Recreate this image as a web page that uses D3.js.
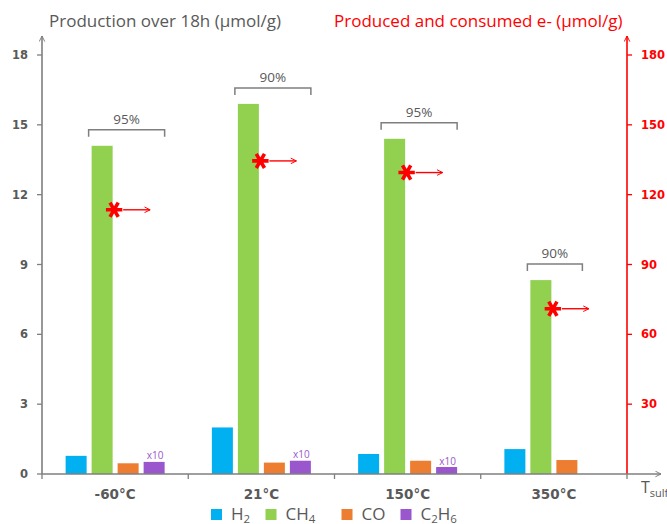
<!DOCTYPE html>
<html>
<head>
<meta charset="utf-8">
<script src="https://cdn.jsdelivr.net/npm/d3@7"></script>
<style>
  html, body { margin: 0; padding: 0; background: #fff; }
  svg { display: block; font-family: "Open Sans", sans-serif; }
</style>
</head>
<body>
<svg id="chart" width="667" height="524"></svg>
<script>
// Sulfidation temperatures
const categories = ["-60°C", "21°C", "150°C", "350°C"];
// Gas species
const series = ["H2", "CH4", "CO", "C2H6"];
// Production over 18 h (µmol/g); C2H6 shown ×10, absent at 350°C
const h2   = [0.78, 2.0, 0.86, 1.07];
const ch4  = [14.1, 15.9, 14.4, 8.33];
const co   = [0.46, 0.49, 0.57, 0.6];
const c2h6 = [0.52, 0.57, 0.3, null];
// Produced and consumed electrons (µmol/g), right axis
const electrons = [113.5, 134.5, 129.5, 71];
// Electron balance labels
const balance = ["95%", "90%", "95%", "90%"];
const leftTicks = [0, 3, 6, 9, 12, 15, 18];
const rightTicks = [30, 60, 90, 120, 150, 180];

const colors = { H2: "#00b0f0", CH4: "#92d050", CO: "#ed7d31", C2H6: "#9a57cd" };
const gray = "#7f7f7f";
const textGray = "#595959";
const red = "#ff0000";
const boldFont = "'DejaVu Sans', Verdana, sans-serif";

const rows = categories.map((c, i) => ({
  cat: c, H2: h2[i], CH4: ch4[i], CO: co[i], C2H6: c2h6[i],
  e: electrons[i], pct: balance[i]
}));

const svg = d3.select("#chart");
const plotLeft = 42, plotRight = 627, plotTop = 55, plotBottom = 474;

const x0 = d3.scaleBand().domain(categories).range([plotLeft, plotRight]).padding(0);
const x1 = d3.scaleBand().domain(series)
  .range([0, 99]).paddingInner(5 / 26).paddingOuter(0);
const offset = (x0.bandwidth() - 99) / 2;
const y = d3.scaleLinear().domain([0, 18]).range([plotBottom, plotTop]);
const yR = d3.scaleLinear().domain([0, 180]).range([plotBottom, plotTop]);

// arrow markers
const defs = svg.append("defs");
function marker(id, color) {
  defs.append("marker").attr("id", id)
    .attr("viewBox", "0 0 10 10").attr("refX", 9).attr("refY", 5)
    .attr("markerWidth", 7).attr("markerHeight", 7)
    .attr("markerUnits", "userSpaceOnUse")
    .attr("orient", "auto")
    .append("path").attr("d", "M1,1 L9,5 L1,9")
    .attr("fill", "none").attr("stroke", color).attr("stroke-width", 1.4);
}
marker("arrGray", gray);
marker("arrRed", red);

// bars
const g = svg.append("g");
rows.forEach(r => {
  const bx = x0(r.cat) + offset;
  series.forEach(s => {
    if (r[s] == null) return;
    g.append("rect")
      .attr("x", bx + x1(s)).attr("width", x1.bandwidth())
      .attr("y", y(r[s])).attr("height", y(0) - y(r[s]))
      .attr("fill", colors[s]);
  });
  // ×10 tag on ethane bars
  if (r.C2H6 != null) {
    g.append("text")
      .attr("x", bx + x1("C2H6") + x1.bandwidth() / 2 + 1)
      .attr("y", y(r.C2H6) - 2.5)
      .attr("text-anchor", "middle")
      .attr("font-size", 10).attr("fill", "#9a57cd")
      .text("x10");
  }
  // balance bracket above methane
  const bl = bx + x1("CH4") - 3;
  const br = r.C2H6 != null ? bx + x1("C2H6") + x1.bandwidth()
                            : bx + x1("CO") + x1.bandwidth() + 5;
  const bt = y(r.CH4) - 16;
  g.append("path")
    .attr("d", `M${bl},${bt + 7} V${bt} H${br} V${bt + 7}`)
    .attr("fill", "none").attr("stroke", gray).attr("stroke-width", 1.5);
  g.append("text")
    .attr("x", (bl + br) / 2).attr("y", bt - 6)
    .attr("text-anchor", "middle").attr("font-size", 13.5)
    .attr("fill", textGray).text(r.pct);
  // electrons marker with arrow pointing to right axis
  const sx = bx + x1("CH4") + x1.bandwidth() + 1.5;
  const sy = yR(r.e);
  g.append("path")
    .attr("transform", `translate(${sx},${sy}) rotate(90)`)
    .attr("d", d3.symbol(d3.symbolAsterisk, 190)())
    .attr("fill", "none").attr("stroke", red).attr("stroke-width", 3.6);
  g.append("line")
    .attr("x1", sx + 9).attr("x2", sx + 36)
    .attr("y1", sy).attr("y2", sy)
    .attr("stroke", red).attr("stroke-width", 1.4)
    .attr("marker-end", "url(#arrRed)");
});

// left axis
const ga = svg.append("g");
ga.append("line").attr("x1", plotLeft).attr("x2", plotLeft)
  .attr("y1", plotBottom).attr("y2", 36)
  .attr("stroke", gray).attr("stroke-width", 1.6)
  .attr("marker-end", "url(#arrGray)");
leftTicks.forEach(t => {
  ga.append("line").attr("x1", plotLeft - 5).attr("x2", plotLeft)
    .attr("y1", y(t)).attr("y2", y(t)).attr("stroke", gray).attr("stroke-width", 1.3);
  ga.append("text").attr("x", 28).attr("y", y(t)).attr("dy", "0.36em")
    .attr("text-anchor", "end").attr("font-size", 11.5).attr("font-weight", 700)
    .attr("font-family", boldFont)
    .attr("fill", textGray).text(t);
});

// right axis
rightTicks.forEach(t => {
  ga.append("line").attr("x1", plotRight).attr("x2", plotRight + 5)
    .attr("y1", yR(t)).attr("y2", yR(t)).attr("stroke", red).attr("stroke-width", 1.3);
  ga.append("text").attr("x", 641).attr("y", yR(t)).attr("dy", "0.36em")
    .attr("font-size", 11.5).attr("font-weight", 700)
    .attr("font-family", boldFont)
    .attr("fill", red).text(t);
});
ga.append("line").attr("x1", plotRight).attr("x2", plotRight)
  .attr("y1", plotBottom).attr("y2", 36)
  .attr("stroke", red).attr("stroke-width", 1.6)
  .attr("marker-end", "url(#arrRed)");

// x axis
ga.append("line").attr("x1", plotLeft).attr("x2", 661)
  .attr("y1", plotBottom).attr("y2", plotBottom)
  .attr("stroke", gray).attr("stroke-width", 1.6)
  .attr("marker-end", "url(#arrGray)");
x0.domain().map(c => x0(c)).concat([plotRight]).forEach(px => {
  ga.append("line").attr("x1", px).attr("x2", px)
    .attr("y1", plotBottom).attr("y2", plotBottom + 5)
    .attr("stroke", gray).attr("stroke-width", 1.3);
});
categories.forEach(c => {
  ga.append("text").attr("x", x0(c) + x0.bandwidth() / 2).attr("y", 499)
    .attr("text-anchor", "middle").attr("font-size", 13.5).attr("font-weight", 700)
    .attr("font-family", boldFont)
    .attr("fill", textGray).text(c);
});
const tl = ga.append("text").attr("x", 641).attr("y", 493)
  .attr("font-size", 16).attr("fill", textGray);
tl.append("tspan").text("T");
tl.append("tspan").attr("dy", 4).attr("font-size", 11).text("sulf");

// titles
svg.append("text").attr("x", 49).attr("y", 27)
  .attr("font-size", 17).attr("fill", textGray)
  .text("Production over 18h (µmol/g)");
svg.append("text").attr("x", 334).attr("y", 27)
  .attr("font-size", 17).attr("fill", red)
  .text("Produced and consumed e- (µmol/g)");

// legend
const legend = [
  { key: "H2", x: 211, base: "H", sub: "2", tail: "" },
  { key: "CH4", x: 265.5, base: "CH", sub: "4", tail: "" },
  { key: "CO", x: 341.5, base: "CO", sub: "", tail: "" },
  { key: "C2H6", x: 400.5, base: "C", sub: "2", tail: "H", sub2: "6" }
];
const lg = svg.append("g");
legend.forEach(d => {
  lg.append("rect").attr("x", d.x).attr("y", 509).attr("width", 11).attr("height", 11)
    .attr("fill", colors[d.key]);
  const t = lg.append("text").attr("x", d.x + 20).attr("y", 520)
    .attr("font-size", 17).attr("fill", textGray);
  t.append("tspan").text(d.base);
  if (d.sub) t.append("tspan").attr("dy", 3).attr("font-size", 11.5).text(d.sub);
  if (d.tail) {
    t.append("tspan").attr("dy", -3).text(d.tail);
    t.append("tspan").attr("dy", 3).attr("font-size", 11.5).text(d.sub2);
  }
});
</script>
</body>
</html>
